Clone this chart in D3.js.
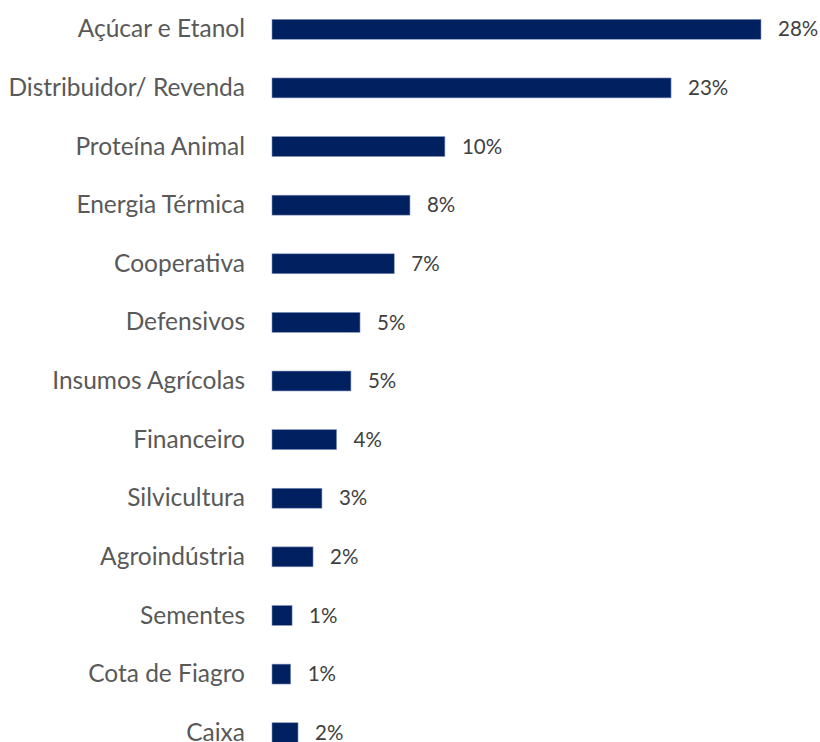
<!DOCTYPE html>
<html>
<head>
<meta charset="utf-8">
<script src="https://cdn.jsdelivr.net/npm/d3@7"></script>
<style>
body { margin: 0; background: #fff; }
.cat { font-family: Lato, "Open Sans", sans-serif; font-size: 24.5px; fill: #595959; }
.val { font-family: Lato, "Open Sans", sans-serif; font-size: 20.5px; fill: #404040; }
</style>
</head>
<body>
<div class="chart"></div>
<script>
// data
const categories = ["Açúcar e Etanol", "Distribuidor/ Revenda", "Proteína Animal", "Energia Térmica",
  "Cooperativa", "Defensivos", "Insumos Agrícolas", "Financeiro", "Silvicultura",
  "Agroindústria", "Sementes", "Cota de Fiagro", "Caixa"];
const values = [28.0, 22.85, 9.9, 7.9, 7.0, 5.04, 4.52, 3.7, 2.86, 2.35, 1.15, 1.07, 1.49];
const valueLabels = ["28%", "23%", "10%", "8%", "7%", "5%", "5%", "4%", "3%", "2%", "1%", "1%", "2%"];

const svgWidth = 820;
const svgHeight = 742;

const svg = d3.select(".chart")
    .append("svg")
    .attr("width", svgWidth)
    .attr("height", svgHeight);

const x = d3.scaleLinear()
    .domain([0, 28])
    .range([272, 761]);

const y = d3.scaleBand()
    .domain(categories)
    .range([0, 762])
    .paddingInner(0.66)
    .paddingOuter(0.33);

const rows = categories.map((c, i) => ({cat: c, v: values[i], lbl: valueLabels[i]}));

svg.selectAll("rect.bar")
    .data(rows)
    .enter()
    .append("rect")
    .attr("class", "bar")
    .attr("x", x(0))
    .attr("y", d => y(d.cat))
    .attr("width", d => x(d.v) - x(0))
    .attr("height", y.bandwidth())
    .attr("fill", "#002060")
    .attr("stroke", "#8596bd")
    .attr("stroke-width", 0.6);

// category labels
svg.selectAll("text.cat")
    .data(rows)
    .enter()
    .append("text")
    .attr("class", "cat")
    .attr("x", 245)
    .attr("y", d => y(d.cat) + y.bandwidth() / 2)
    .attr("dy", "0.33em")
    .attr("text-anchor", "end")
    .text(d => d.cat);

// value labels
svg.selectAll("text.val")
    .data(rows)
    .enter()
    .append("text")
    .attr("class", "val")
    .attr("x", d => x(d.v) + 17)
    .attr("y", d => y(d.cat) + y.bandwidth() / 2)
    .attr("dy", "0.35em")
    .text(d => d.lbl);
</script>
</body>
</html>
